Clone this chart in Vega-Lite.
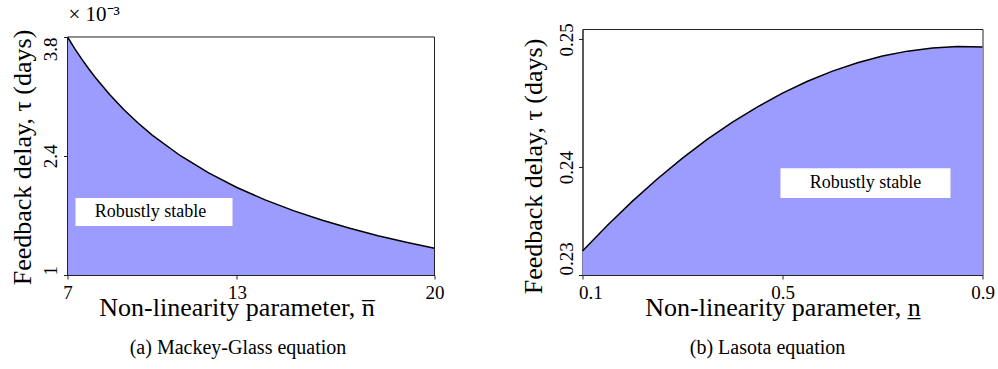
{
  "$schema": "https://vega.github.io/schema/vega-lite/v6.json",
  "background": "white",
  "padding": {"left": 8.5, "top": 3, "right": 0, "bottom": 0},
  "bounds": "flush",
  "spacing": 148,
  "datasets": {
    "mg": [
      {"n": 7, "tau": 3.8},
      {"n": 7.25, "tau": 3.667},
      {"n": 7.5, "tau": 3.543},
      {"n": 7.75, "tau": 3.427},
      {"n": 8, "tau": 3.318},
      {"n": 8.5, "tau": 3.12},
      {"n": 9, "tau": 2.944},
      {"n": 9.5, "tau": 2.788},
      {"n": 10, "tau": 2.646},
      {"n": 11, "tau": 2.403},
      {"n": 12, "tau": 2.201},
      {"n": 13, "tau": 2.03},
      {"n": 14, "tau": 1.884},
      {"n": 15, "tau": 1.757},
      {"n": 16, "tau": 1.647},
      {"n": 17, "tau": 1.549},
      {"n": 18, "tau": 1.462},
      {"n": 19, "tau": 1.385},
      {"n": 20, "tau": 1.315}
    ],
    "lasota": [
      {"n": 0.1, "tau": 0.23203},
      {"n": 0.15, "tau": 0.23423},
      {"n": 0.2, "tau": 0.23627},
      {"n": 0.25, "tau": 0.23817},
      {"n": 0.3, "tau": 0.23992},
      {"n": 0.35, "tau": 0.24153},
      {"n": 0.4, "tau": 0.24298},
      {"n": 0.45, "tau": 0.24428},
      {"n": 0.5, "tau": 0.24544},
      {"n": 0.55, "tau": 0.24645},
      {"n": 0.6, "tau": 0.24731},
      {"n": 0.65, "tau": 0.24803},
      {"n": 0.7, "tau": 0.24859},
      {"n": 0.75, "tau": 0.24901},
      {"n": 0.8, "tau": 0.24928},
      {"n": 0.85, "tau": 0.2494},
      {"n": 0.9, "tau": 0.24937}
    ]
  },
  "config": {
    "font": "Liberation Serif",
    "axis": {
      "grid": false,
      "labelFont": "Liberation Serif",
      "titleFont": "Liberation Serif",
      "labelColor": "black",
      "titleColor": "black",
      "domainColor": "#222",
      "tickColor": "#222",
      "labelFontSize": 19,
      "titleFontSize": 26,
      "titleFontWeight": "normal",
      "tickSize": 4,
      "domainWidth": 1,
      "tickWidth": 1
    },
    "title": {"font": "Liberation Serif", "fontWeight": "normal", "color": "black", "fontSize": 20}
  },
  "hconcat": [
    {
      "width": 367,
      "height": 246,
      "view": {"stroke": null},
      "title": {"text": "(a) Mackey-Glass equation", "orient": "bottom", "anchor": "middle", "frame": "group", "offset": 18, "dx": -13},
      "layer": [
        {
          "data": {"name": "mg"},
          "mark": {"type": "area", "fill": "#9c9cff"},
          "encoding": {
            "x": {
              "field": "n", "type": "quantitative",
              "scale": {"domain": [7, 20], "nice": false, "zero": false},
              "axis": {
                "values": [7, 13, 20],
                "title": "Non-linearity parameter, n̅",
                "titleX": 169, "titleY": 40, "titleAlign": "center", "titleBaseline": "alphabetic",
                "labelPadding": 4, "labelFlush": false, "labelAlign": "center"
              }
            },
            "y": {
              "field": "tau", "type": "quantitative",
              "scale": {"domain": [1, 3.8941], "nice": false, "zero": false},
              "axis": {
                "values": [1, 2.4, 3.8],
                "labelExpr": "format(datum.value, '~g')",
                "domain": false,
                "title": "Feedback delay, τ (days)",
                "titleX": -45.5, "titleY": 128, "titleAngle": 270, "titleBaseline": "middle", "titleAlign": "center",
                "labelAngle": 270, "labelBaseline": "alphabetic", "labelPadding": 7, "labelFlush": false,
                "labelAlign": {"condition": [{"test": "datum.value > 3.7", "value": "right"}, {"test": "datum.value < 1.1", "value": "left"}], "value": "center"}
              }
            },
            "y2": {"datum": 1}
          }
        },
        {
          "data": {"name": "mg"},
          "mark": {"type": "line", "color": "black", "strokeWidth": 1.5},
          "encoding": {
            "x": {"field": "n", "type": "quantitative"},
            "y": {"field": "tau", "type": "quantitative"}
          }
        },
        {
          "data": {"values": [{}]},
          "mark": {"type": "rule", "color": "#222", "strokeWidth": 1},
          "encoding": {"x": {"datum": 7}, "y": {"datum": 1}, "y2": {"datum": 3.8}}
        },
        {
          "data": {"values": [{}]},
          "mark": {"type": "rule", "color": "#222", "strokeWidth": 1},
          "encoding": {"x": {"datum": 20}, "y": {"datum": 1}, "y2": {"datum": 3.8}}
        },
        {
          "data": {"values": [{}]},
          "mark": {"type": "rule", "color": "#222", "strokeWidth": 1},
          "encoding": {"x": {"datum": 7}, "x2": {"datum": 20}, "y": {"datum": 3.8}}
        },
        {
          "data": {"values": [{}]},
          "mark": {"type": "rect", "fill": "white"},
          "encoding": {"x": {"datum": 7.283}, "x2": {"datum": 12.845}, "y": {"datum": 1.5765}, "y2": {"datum": 1.906}}
        },
        {
          "data": {"values": [{}]},
          "mark": {"type": "text", "text": "Robustly stable", "fontSize": 18, "font": "Liberation Serif", "color": "black", "align": "center", "baseline": "middle"},
          "encoding": {"x": {"datum": 9.94}, "y": {"datum": 1.741}}
        },
        {
          "data": {"values": [{}]},
          "mark": {"type": "text", "text": "× 10⁻³", "fontSize": 21, "font": "Liberation Serif", "color": "black", "align": "left", "baseline": "alphabetic", "dx": 1, "dy": -16},
          "encoding": {"x": {"datum": 7}, "y": {"datum": 3.8}}
        }
      ]
    },
    {
      "width": 400,
      "height": 246,
      "view": {"stroke": "#222", "strokeWidth": 1},
      "title": {"text": "(b) Lasota equation", "orient": "bottom", "anchor": "middle", "frame": "group", "offset": 18, "dx": -15},
      "layer": [
        {
          "data": {"name": "lasota"},
          "mark": {"type": "area", "fill": "#9c9cff"},
          "encoding": {
            "x": {
              "field": "n", "type": "quantitative",
              "scale": {"domain": [0.1, 0.9], "nice": false, "zero": false},
              "axis": {
                "values": [0.1, 0.5, 0.9],
                "title": "Non-linearity parameter, n̲",
                "titleY": 40, "titleBaseline": "alphabetic",
                "labelPadding": 4, "labelFlush": false,
                "labelAlign": {"condition": {"test": "datum.value < 0.15", "value": "left"}, "value": "center"},
                "labelOffset": {"condition": {"test": "datum.value < 0.15", "value": -4}, "value": 0}
              }
            },
            "y": {
              "field": "tau", "type": "quantitative",
              "scale": {"domain": [0.23, 0.25089], "nice": false, "zero": false},
              "axis": {
                "values": [0.23, 0.239153, 0.25],
                "labelExpr": "format(datum.value, '.2f')",
                "title": "Feedback delay, τ (days)",
                "titleX": -49, "titleY": 137, "titleAngle": 270, "titleBaseline": "middle", "titleAlign": "center",
                "labelAngle": 270, "labelBaseline": "alphabetic", "labelPadding": 6, "labelFlush": false,
                "labelAlign": {"condition": {"test": "datum.value < 0.2301", "value": "left"}, "value": "center"}
              }
            },
            "y2": {"datum": 0.23}
          }
        },
        {
          "data": {"name": "lasota"},
          "mark": {"type": "line", "color": "black", "strokeWidth": 1.5},
          "encoding": {
            "x": {"field": "n", "type": "quantitative"},
            "y": {"field": "tau", "type": "quantitative"}
          }
        },
        {
          "data": {"values": [{}]},
          "mark": {"type": "rect", "fill": "white"},
          "encoding": {"x": {"datum": 0.496}, "x2": {"datum": 0.836}, "y": {"datum": 0.23653}, "y2": {"datum": 0.23907}}
        },
        {
          "data": {"values": [{}]},
          "mark": {"type": "text", "text": "Robustly stable", "fontSize": 18, "font": "Liberation Serif", "color": "black", "align": "center", "baseline": "middle"},
          "encoding": {"x": {"datum": 0.666}, "y": {"datum": 0.2378}}
        }
      ]
    }
  ]
}
